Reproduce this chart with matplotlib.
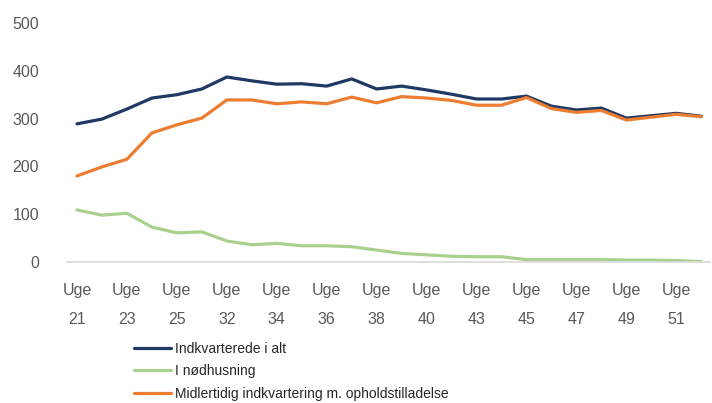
import matplotlib
matplotlib.use("Agg")
import matplotlib.pyplot as plt

# uge-numre (hver anden vises på aksen)
weeks = [21, 22, 23, 24, 25, 31, 32, 33, 34, 35, 36, 37, 38, 39, 40,
         42, 43, 44, 45, 46, 47, 48, 49, 50, 51, 52]
total = [289, 299, 320, 343, 350, 362, 387, 379, 372, 373, 368, 383, 362,
         368, 360, 351, 341, 341, 347, 326, 318, 322, 301, 306, 311, 305]
emergency = [109, 98, 102, 73, 61, 63, 44, 36, 39, 34, 34, 32, 25,
             18, 15, 12, 11, 11, 5, 5, 5, 5, 4, 4, 3, 1]
temporary = [180, 199, 215, 270, 287, 301, 339, 339, 331, 335, 331, 345, 333,
             346, 343, 338, 328, 328, 344, 321, 313, 317, 297, 303, 309, 304]

series_names = ["Indkvarterede i alt", "I nødhusning",
                "Midlertidig indkvartering m. opholdstilladelse"]
colors = ["#1F3864", "#A9D18E", "#ED7D31"]

plt.rcParams["font.family"] = ["Liberation Sans", "DejaVu Sans"]

fig = plt.figure(figsize=(7.12, 4.03), dpi=100)
ax = fig.add_axes([67 / 712, 1 - 262 / 403, (710 - 67) / 712, (262 - 23) / 403])

x = list(range(len(weeks)))
lines = []
for vals, name, c in zip([total, emergency, temporary], series_names, colors):
    ln, = ax.plot(x, vals, color=c, lw=2.3, label=name, solid_capstyle="round")
    lines.append(ln)

ax.set_ylim(0, 500)
ax.set_yticks([0, 100, 200, 300, 400, 500])
ax.set_xlim(-0.4, 25.35)
ax.set_xticks(x[::2])
ax.set_xticklabels([f"Uge\n{w}" for w in weeks[::2]], linespacing=2.2)

for s in ["top", "right", "left"]:
    ax.spines[s].set_visible(False)
ax.spines["bottom"].set_color("#D9D9D9")
ax.spines["bottom"].set_linewidth(1.2)
ax.tick_params(axis="both", length=0, colors="#595959", labelsize=11.5)
ax.tick_params(axis="y", pad=20)
ax.tick_params(axis="x", pad=15)

fig.legend(handles=lines, loc="upper left", bbox_to_anchor=(128 / 712, 1 - 336 / 403),
           frameon=False, fontsize=10, handlelength=2.7, handletextpad=0.3,
           labelspacing=0.63, borderaxespad=0, labelcolor="#262626")

fig.savefig("out.png", dpi=100)
